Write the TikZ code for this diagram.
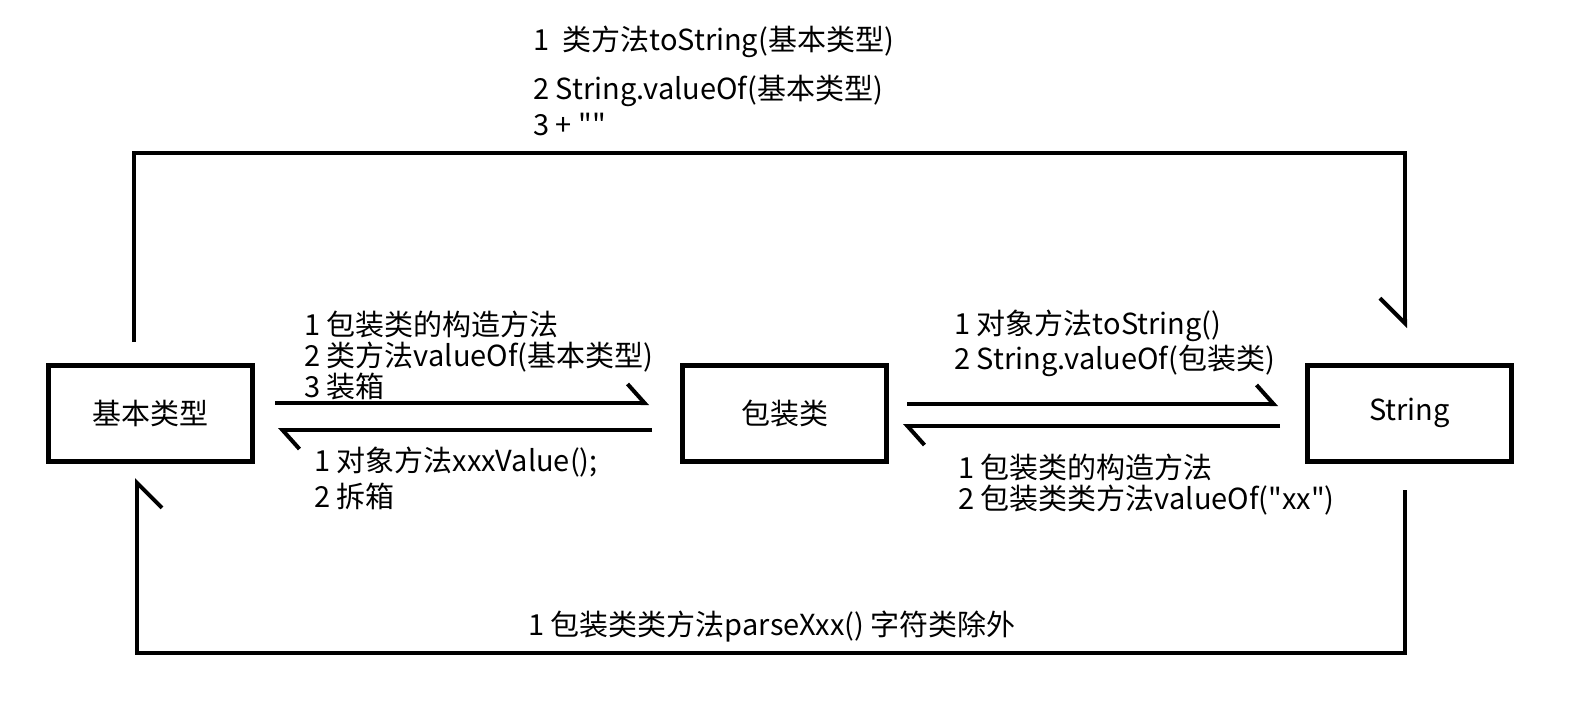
\documentclass[tikz,border=0pt]{standalone}
\usepackage{fontspec}
\setmainfont{Noto Sans CJK SC}[Ligatures=TeXOff]
\usetikzlibrary{arrows.meta}
\tikzset{
  box/.style={draw, line width=2.5pt, outer sep=0pt, inner sep=0pt,
    minimum width=102pt, minimum height=47.75pt,
    font=\fontsize{14.5pt}{17pt}\selectfont},
  lbl/.style={anchor=west, align=left, inner sep=0pt,
    font=\fontsize{14.5pt}{#1}\selectfont},
  lbl/.default=17pt,
  conv/.style={line width=2pt, -{Straight Barb[left,length=8.5pt,width=19pt]}},
  roundtrip/.style={line width=2pt, -{Straight Barb[right,length=12.5pt,width=25pt]}},
}
\begin{document}
\begin{tikzpicture}[x=0.5pt,y=-0.5pt]
      \useasboundingbox (0,0) rectangle (1587,723);
      \node[box] (base) at (150.5,413.3) {基本类型};
      \node[box] (wrap) at (784.5,413.3) {包装类};
      \node[box] (str) at (1409.5,413.3) {String};
      \begin{scope}[conv]
        \draw[shorten <=11.25pt, shorten >=16.75pt] ([yshift=5.15pt]base.east) -- ([yshift=5.15pt]wrap.west);
        \draw[shorten <=15.25pt, shorten >=12.75pt] ([yshift=-8.35pt]wrap.west) -- ([yshift=-8.35pt]base.east);
        \draw[shorten <=10.25pt, shorten >=14.75pt] ([yshift=4.65pt]wrap.east) -- ([yshift=4.65pt]str.west);
        \draw[shorten <=13.75pt, shorten >=8.25pt] ([yshift=-6.35pt]str.west) -- ([yshift=-6.35pt]wrap.east);
      \end{scope}
      \begin{scope}[roundtrip]
        \draw ([xshift=-8.25pt,yshift=11.75pt]base.north) -- ++(0,-189) -| ([xshift=-2.25pt,yshift=18.75pt]str.north);
        \draw ([xshift=-2.25pt,yshift=-14.5pt]str.south) -- ++(0,163) -| ([xshift=-6.75pt,yshift=-8.5pt]base.south);
      \end{scope}
      \node[lbl=18pt] (prim2str) at (533,80.5) {1\ \ 类方法toString(基本类型)\\[6.5pt]2 String.valueOf(基本类型)\\3 + ""};
      \node[lbl=15.5pt] (boxing) at (304,355) {1 包装类的构造方法\\2 类方法valueOf(基本类型)\\3 装箱};
      \node[lbl=18pt] (unboxing) at (314,478) {1 对象方法xxxValue();\\2 拆箱};
      \node[lbl=17.5pt] (tostr) at (954,343.5) {1 对象方法toString()\\2 String.valueOf(包装类)};
      \node[lbl=15.5pt] (fromstr) at (958,484.5) {1 包装类的构造方法\\2 包装类类方法valueOf("xx")};
      \node[lbl] (str2prim) at (528,627) {1 包装类类方法parseXxx() 字符类除外};
    \end{tikzpicture}
\end{document}
